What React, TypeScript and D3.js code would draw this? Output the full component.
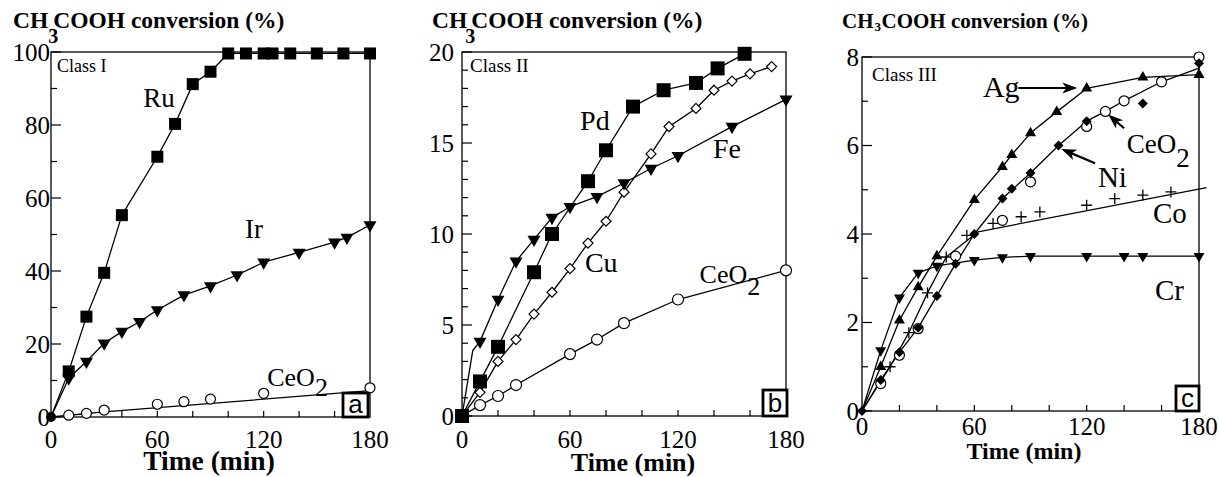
import * as d3 from 'd3';

type Pt = [number, number];

// ---- Class I (panel a) : time (min), conversion (%) ----
const ruA: Pt[] = [[0, 0], [10, 12.5], [20, 27.5], [30, 39.5], [40, 55.3], [60, 71.3], [70, 80.3], [80, 91.2], [90, 94.6], [100, 99.6], [110, 99.6], [120, 99.6], [125, 99.6], [135, 99.6], [150, 99.6], [165, 99.6], [180, 99.6]];
const irA: Pt[] = [[0, 0], [10, 10.6], [20, 15.2], [30, 20.2], [40, 23.4], [50, 26.1], [60, 29.3], [75, 33.4], [90, 35.9], [105, 38.9], [120, 42.4], [140, 45.1], [160, 47.9], [167, 49.2], [180, 52.6]];
const ceA: Pt[] = [[0, 0], [10, 0.5], [20, 1.0], [30, 1.9], [60, 3.5], [75, 4.2], [90, 4.9], [120, 6.5], [180, 8.0]];
const ceAFit: Pt[] = [[0, 0], [30, 1.4], [180, 7.2]];

// ---- Class II (panel b) ----
const pdB: Pt[] = [[0, 0], [10, 1.9], [20, 3.8], [40, 7.9], [50, 10.0], [70, 12.9], [80, 14.6], [95, 17.0], [112, 17.9], [130, 18.3], [142, 19.1], [157, 19.9]];
const cuB: Pt[] = [[0, 0], [10, 1.3], [20, 3.0], [30, 4.2], [40, 5.6], [50, 6.8], [60, 8.1], [70, 9.5], [80, 10.7], [90, 12.3], [105, 14.4], [115, 15.9], [130, 16.9], [140, 17.9], [150, 18.4], [160, 18.8], [172, 19.2]];
const feB: Pt[] = [[0, 0], [10, 4.1], [20, 6.4], [30, 8.5], [40, 9.7], [50, 10.9], [60, 11.5], [75, 12.05], [90, 12.8], [105, 13.6], [120, 14.3], [150, 15.9], [180, 17.4]];
const feBLine: Pt[] = [[0, 0], [6, 3.6], ...feB.slice(1)];
const ceB: Pt[] = [[0, 0], [10, 0.6], [20, 1.1], [30, 1.7], [60, 3.4], [75, 4.2], [90, 5.1], [120, 6.4], [180, 8.0]];

// ---- Class III (panel c) ----
const agC: Pt[] = [[0, 0], [10, 1.0], [20, 2.05], [30, 2.8], [40, 3.5], [60, 4.77], [75, 5.52], [80, 5.79], [90, 6.28], [104, 6.76], [120, 7.29], [150, 7.54], [180, 7.6]];
const niC: Pt[] = [[0, 0], [10, 0.7], [20, 1.33], [30, 1.88], [40, 2.6], [50, 3.33], [60, 4.0], [75, 4.8], [80, 5.02], [90, 5.38], [105, 6.0], [120, 6.55], [150, 6.95], [180, 7.86]];
const niCFit: Pt[] = [[0, 0], [10, 0.7], [20, 1.33], [30, 1.88], [40, 2.6], [50, 3.33], [60, 4.0], [75, 4.8], [90, 5.38], [105, 6.0], [120, 6.55], [130, 6.77], [140, 7.01], [160, 7.44], [180, 7.75]];
const ceC: Pt[] = [[0, 0], [10, 0.62], [20, 1.26], [30, 1.86], [50, 3.5], [75, 4.31], [90, 5.18], [120, 6.43], [130, 6.77], [140, 7.01], [160, 7.44], [180, 8.0]];
const coC: Pt[] = [[15, 1.0], [25, 1.77], [35, 2.67], [45, 3.48], [56, 3.97], [70, 4.24], [85, 4.39], [95, 4.5], [120, 4.65], [135, 4.8], [150, 4.88], [165, 4.95]];
const coCFit: Pt[] = [[0, 0], [15, 1.0], [25, 1.77], [35, 2.67], [45, 3.48], [62, 4.05], [184, 5.05]];
const crC: Pt[] = [[0, 0], [10, 1.37], [20, 2.56], [30, 3.12], [40, 3.28], [60, 3.41], [75, 3.47], [90, 3.5], [120, 3.5], [140, 3.5], [150, 3.5], [180, 3.5]];

const xTickLabels = [0, 60, 120, 180];

const SERIF = '"Liberation Serif", "Times New Roman", serif';
const SANS = '"Liberation Sans", Arial, sans-serif';

type Marker = 'square' | 'triDown' | 'triUp' | 'circle' | 'diamond' | 'diamondFill' | 'plus';

interface Series { pts: Pt[]; line?: Pt[] | null; marker: Marker; size: number; from?: number; }
interface Label { text: string; sub?: string; at: Pt; size: number; subDy?: number; }
interface Arrow { from: Pt; to: Pt; }

interface PanelDef {
  left: number; right: number; bottom: number; top: number;
  yMax: number; yMajor: number; yMinor: number;
  series: Series[];
  labels: Label[];
  arrows: Arrow[];
  cls: string; clsPos: [number, number]; clsSize: number;
  letter: string; box: [number, number, number, number];
  title: { x: number; y: number; size: number; subSize: number; subDx: number; subDy: number; restDx: number };
  tickFont: number; yLabelGap: number; xLabelY: number;
  axisTitle: { x: number; y: number; size: number };
  originDot?: boolean;
}

const markerPath = (m: Marker, s: number): string => {
  const r = s / 2;
  switch (m) {
    case 'square': return d3.symbol(d3.symbolSquare, s * s)() as string;
    case 'circle': return d3.symbol(d3.symbolCircle, Math.PI * r * r)() as string;
    case 'triUp':
    case 'triDown': return d3.symbol(d3.symbolTriangle, 0.433 * s * s)() as string;
    case 'diamond':
    case 'diamondFill': return `M0,${-r}L${r},0L0,${r}L${-r},0Z`;
    case 'plus': return `M${-r},0H${r}M0,${-r}V${r}`;
  }
};

const markerStyle = (m: Marker) => {
  if (m === 'circle' || m === 'diamond') return { fill: '#fff', stroke: '#000', strokeWidth: 1.2 };
  if (m === 'plus') return { fill: 'none', stroke: '#000', strokeWidth: 1.3 };
  return { fill: '#000', stroke: 'none', strokeWidth: 0 };
};

const panels: PanelDef[] = [
  {
    left: 51, right: 370, bottom: 417, top: 52, yMax: 100, yMajor: 20, yMinor: 10,
    series: [
      { pts: ceA, line: ceAFit, marker: 'circle', size: 10, from: 1 },
      { pts: irA, marker: 'triDown', size: 13, from: 1 },
      { pts: ruA, marker: 'square', size: 12, from: 1 },
    ],
    labels: [
      { text: 'Ru', at: [52, 85], size: 27 },
      { text: 'Ir', at: [109.5, 49], size: 27 },
      { text: 'CeO', sub: '2', at: [122, 8.4], size: 26, subDy: 10 },
    ],
    arrows: [],
    cls: 'Class I', clsPos: [57, 72], clsSize: 18,
    letter: 'a', box: [343, 393, 25, 24],
    title: { x: 13, y: 28, size: 23.5, subSize: 20, subDx: 0, subDy: 15, restDx: 5 },
    tickFont: 25, yLabelGap: 1, xLabelY: 448,
    axisTitle: { x: 209, y: 470, size: 27.5 },
    originDot: true,
  },
  {
    left: 462, right: 786, bottom: 416, top: 52, yMax: 20, yMajor: 5, yMinor: 1,
    series: [
      { pts: ceB, marker: 'circle', size: 11, from: 1 },
      { pts: cuB, marker: 'diamond', size: 10, from: 1 },
      { pts: feB, line: feBLine, marker: 'triDown', size: 13, from: 1 },
      { pts: pdB, marker: 'square', size: 14, from: 0 },
    ],
    labels: [
      { text: 'Pd', at: [65.6, 15.7], size: 28 },
      { text: 'Fe', at: [139.4, 14.2], size: 28 },
      { text: 'Cu', at: [68.3, 7.9], size: 28 },
      { text: 'CeO', sub: '2', at: [132, 7.3], size: 26, subDy: 12 },
    ],
    arrows: [],
    cls: 'Class II', clsPos: [470, 72], clsSize: 19,
    letter: 'b', box: [763, 390, 24, 26],
    title: { x: 432, y: 28, size: 23.5, subSize: 20, subDx: -2, subDy: 15, restDx: 4 },
    tickFont: 25, yLabelGap: 8, xLabelY: 448,
    axisTitle: { x: 633, y: 471, size: 26 },
  },
  {
    left: 862, right: 1199, bottom: 411, top: 57, yMax: 8, yMajor: 2, yMinor: 1,
    series: [
      { pts: crC, marker: 'triDown', size: 11, from: 1 },
      { pts: coC, line: coCFit, marker: 'plus', size: 11, from: 0 },
      { pts: ceC, line: null, marker: 'circle', size: 10, from: 1 },
      { pts: niC, line: niCFit, marker: 'diamondFill', size: 10, from: 0 },
      { pts: agC, marker: 'triUp', size: 11, from: 1 },
    ],
    labels: [
      { text: 'Ag', at: [64.6, 7.1], size: 30 },
      { text: 'CeO', sub: '2', at: [141.4, 5.83], size: 27, subDy: 14 },
      { text: 'Ni', at: [126, 5.06], size: 29 },
      { text: 'Co', at: [155.4, 4.24], size: 29 },
      { text: 'Cr', at: [156.5, 2.5], size: 29 },
    ],
    arrows: [
      { from: [83.5, 7.3], to: [115, 7.3] },
      { from: [140, 6.39], to: [131.5, 6.7] },
      { from: [124.5, 5.6], to: [106.5, 5.92] },
    ],
    cls: 'Class III', clsPos: [872, 81], clsSize: 19,
    letter: 'c', box: [1176, 386, 23, 25],
    title: { x: 842, y: 28, size: 21, subSize: 13, subDx: 1, subDy: 3, restDx: 8 },
    tickFont: 25, yLabelGap: 3, xLabelY: 435,
    axisTitle: { x: 1024, y: 459, size: 24 },
  },
];

function Panel({ p }: { p: PanelDef }) {
  const x = d3.scaleLinear().domain([0, 180]).range([p.left, p.right]);
  const y = d3.scaleLinear().domain([0, p.yMax]).range([p.bottom, p.top]);
  const line = d3.line<Pt>().x((d) => x(d[0])).y((d) => y(d[1]));
  const yTicks = d3.range(0, p.yMax + 1e-9, p.yMinor);
  const xTicks = d3.range(20, 180, 20);
  const isMajor = (v: number) => Math.abs(v / p.yMajor - Math.round(v / p.yMajor)) < 1e-6;
  const chWidth = p.title.size * 1.5; // bold "CH" advance

  return (
    <g>
      {/* frame and ticks */}
      <rect x={p.left} y={p.top} width={p.right - p.left} height={p.bottom - p.top} fill="none" stroke="#000" strokeWidth={1.3} />
      {yTicks.map((v) => (
        <line key={'yt' + v} x1={p.left} x2={p.left + (isMajor(v) ? 10 : 6)} y1={y(v)} y2={y(v)} stroke="#000" strokeWidth={1.2} />
      ))}
      {xTicks.map((v) => (
        <line key={'xt' + v} x1={x(v)} x2={x(v)} y1={p.bottom} y2={p.bottom - 6} stroke="#000" strokeWidth={1.2} />
      ))}
      {yTicks.filter(isMajor).map((v) => (
        <text key={'yl' + v} x={p.left - p.yLabelGap} y={y(v)} dy="0.35em" textAnchor="end" fontFamily={SERIF} fontSize={p.tickFont}>{v}</text>
      ))}
      {xTickLabels.map((v) => (
        <text key={'xl' + v} x={x(v)} y={p.xLabelY} textAnchor="middle" fontFamily={SERIF} fontSize={p.tickFont}>{v}</text>
      ))}

      {/* lines */}
      {p.series.map((s, i) => (s.line === null ? null : (
        <path key={'ln' + i} d={line(s.line ?? s.pts) as string} fill="none" stroke="#000" strokeWidth={1.3} strokeLinejoin="round" />
      )))}

      {/* markers */}
      {p.series.map((s, i) => s.pts.slice(s.from ?? 0).map((d, j) => (
        <path key={'mk' + i + '-' + j} d={markerPath(s.marker, s.size)}
          transform={`translate(${x(d[0])},${y(d[1])})${s.marker === 'triDown' ? ' rotate(180)' : ''}`}
          {...markerStyle(s.marker)} />
      )))}
      {p.originDot && <circle cx={x(0)} cy={y(0)} r={5} fill="#000" />}

      {/* arrows */}
      {p.arrows.map((a, i) => {
        const x1 = x(a.from[0]), y1 = y(a.from[1]), x2 = x(a.to[0]), y2 = y(a.to[1]);
        const rad = Math.atan2(y2 - y1, x2 - x1);
        return (
          <g key={'ar' + i}>
            <line x1={x1} y1={y1} x2={x2 - 8 * Math.cos(rad)} y2={y2 - 8 * Math.sin(rad)} stroke="#000" strokeWidth={2.2} />
            <path d="M0,0L-15,-5.5L-11,0L-15,5.5Z" transform={`translate(${x2},${y2}) rotate(${(rad * 180) / Math.PI})`} fill="#000" />
          </g>
        );
      })}

      {/* series labels */}
      {p.labels.map((l) => (
        <text key={l.text} x={x(l.at[0])} y={y(l.at[1])} fontFamily={SERIF} fontSize={l.size}>
          {l.text}
          {l.sub && <tspan dy={l.subDy}>{l.sub}</tspan>}
        </text>
      ))}

      <text x={p.clsPos[0]} y={p.clsPos[1]} fontFamily={SERIF} fontSize={p.clsSize}>{p.cls}</text>

      {/* panel letter */}
      <rect x={p.box[0]} y={p.box[1]} width={p.box[2]} height={p.box[3]} fill="#fff" stroke="#000" strokeWidth={2.8} />
      <text x={p.box[0] + p.box[2] / 2} y={p.box[1] + p.box[3] - 4} textAnchor="middle" fontFamily={SANS} fontSize={26}>{p.letter}</text>

      {/* titles */}
      <g fontFamily={SERIF} fontWeight="bold">
        <text x={p.title.x} y={p.title.y} fontSize={p.title.size}>CH</text>
        <text x={p.title.x + chWidth + p.title.subDx} y={p.title.y + p.title.subDy} fontSize={p.title.subSize}>3</text>
        <text x={p.title.x + chWidth + p.title.restDx} y={p.title.y} fontSize={p.title.size}>COOH conversion (%)</text>
      </g>
      <text x={p.axisTitle.x} y={p.axisTitle.y} textAnchor="middle" fontFamily={SERIF} fontWeight="bold" fontSize={p.axisTitle.size}>Time (min)</text>
    </g>
  );
}

export default function App() {
  return (
    <svg width={1219} height={477} style={{ position: 'absolute', left: 0, top: 0, background: '#fff' }}>
      <rect width={1219} height={477} fill="#fff" />
      {panels.map((p) => <Panel key={p.letter} p={p} />)}
    </svg>
  );
}
